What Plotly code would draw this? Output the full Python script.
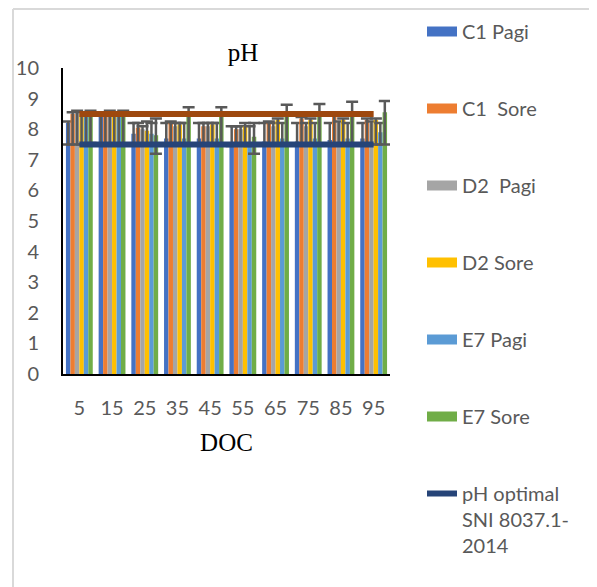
import plotly.graph_objects as go

doc = ["5", "15", "25", "35", "45", "55", "65", "75", "85", "95"]

c1_pagi = [8.2, 8.45, 7.85, 7.7, 7.7, 7.5, 7.6, 7.6, 7.65, 7.7]
c1_sore = [8.5, 8.5, 8.05, 8.2, 8.1, 8.0, 8.2, 8.35, 8.5, 8.3]
d2_pagi = [8.5, 8.5, 8.0, 8.1, 8.1, 8.0, 8.1, 8.1, 8.2, 8.2]
d2_sore = [8.5, 8.5, 7.95, 8.15, 8.15, 8.1, 8.3, 8.3, 8.3, 8.3]
e7_pagi = [8.5, 8.5, 7.85, 7.7, 7.7, 7.5, 7.7, 7.7, 7.7, 7.9]
e7_sore = [8.55, 8.5, 7.8, 8.5, 8.5, 7.75, 8.5, 8.5, 8.5, 8.55]

# error bars (upper / lower lengths)
c1_pagi_plus = [0.05, 0.05, 0.35, 0.5, 0.5, 0.6, 0.6, 0.6, 0.55, 0.5]
c1_pagi_minus = [0.7, 0.95, 0.35, 0.2, 0.2, 0.05, 0.1, 0.1, 0.15, 0.2]
c1_sore_plus = [0.05, 0.05, 0.15, 0.05, 0.1, 0.1, 0.05, 0.05, 0.05, 0.05]
c1_sore_minus = [1.0, 1.0, 0.55, 0.7, 0.6, 0.5, 0.7, 0.85, 1.0, 0.8]
d2_pagi_plus = [0.1, 0.1, 0.1, 0.1, 0.1, 0.1, 0.1, 0.1, 0.05, 0.05]
d2_pagi_minus = [1.0, 1.0, 0.5, 0.6, 0.6, 0.5, 0.6, 0.6, 0.7, 0.7]
d2_sore_plus = [0.05, 0.05, 0.3, 0.05, 0.05, 0.1, 0.05, 0.05, 0.05, 0.05]
d2_sore_minus = [1.0, 1.0, 0.45, 0.65, 0.65, 0.6, 0.8, 0.8, 0.8, 0.8]
e7_pagi_plus = [0.05, 0.05, 0.35, 0.5, 0.5, 0.6, 0.5, 0.5, 0.5, 0.3]
e7_pagi_minus = [1.0, 1.0, 0.35, 0.2, 0.2, 0.05, 0.2, 0.2, 0.2, 0.4]
e7_sore_plus = [0.05, 0.1, 0.55, 0.22, 0.22, 0.45, 0.3, 0.32, 0.4, 0.37]
e7_sore_minus = [1.0, 1.0, 0.6, 1.0, 1.0, 0.55, 1.0, 1.0, 1.0, 1.05]

ph_min = [7.5, 7.5, 7.5, 7.5, 7.5, 7.5, 7.5, 7.5, 7.5, 7.5]
ph_max = [8.5, 8.5, 8.5, 8.5, 8.5, 8.5, 8.5, 8.5, 8.5, 8.5]

series = [
    ("C1 Pagi", c1_pagi, c1_pagi_plus, c1_pagi_minus, "#4472C4"),
    ("C1  Sore", c1_sore, c1_sore_plus, c1_sore_minus, "#ED7D31"),
    ("D2  Pagi", d2_pagi, d2_pagi_plus, d2_pagi_minus, "#A5A5A5"),
    ("D2 Sore", d2_sore, d2_sore_plus, d2_sore_minus, "#FFC000"),
    ("E7 Pagi", e7_pagi, e7_pagi_plus, e7_pagi_minus, "#5B9BD5"),
    ("E7 Sore", e7_sore, e7_sore_plus, e7_sore_minus, "#70AD47"),
]

OFF = 8  # page body margin
W, H = 597 - OFF, 587 - OFF
L, R, T, B = 63 - OFF, 390 - OFF, 68 - OFF, 374 - OFF
pw, ph = R - L, B - T


def px(x):
    return (x - L) / pw


def py(y):
    return (B - y) / ph


fig = go.Figure()
for i, (name, vals, ep, em, col) in enumerate(series):
    fig.add_trace(go.Bar(
        x=doc, y=vals, name=name, marker=dict(color=col, line=dict(width=0)),
        error_y=dict(type="data", symmetric=False, array=ep, arrayminus=em,
                     color="#595959", thickness=2.5, width=6),
        showlegend=False, legendgroup=f"g{i}",
    ))
    fig.add_trace(go.Scatter(
        x=[None], y=[None], mode="lines", name=name,
        line=dict(color=col, width=13), legendgroup=f"g{i}",
    ))

fig.add_trace(go.Scatter(
    x=doc, y=ph_max, mode="lines", name="pH optimal (batas atas)",
    line=dict(color="#9E480E", width=6), showlegend=False,
))
fig.add_trace(go.Scatter(
    x=doc, y=ph_min, mode="lines", name="pH optimal<br>SNI 8037.1-<br>2014",
    line=dict(color="#264478", width=6), legendgroup="g7",
))

serif = "Liberation Serif, Times New Roman, serif"
fig.update_layout(
    width=W, height=H,
    margin=dict(l=L, r=W - R, t=T, b=H - B, autoexpand=False),
    paper_bgcolor="white", plot_bgcolor="white",
    barmode="group", bargap=0.18, bargroupgap=0,
    font=dict(family="Lato, Liberation Sans, sans-serif", color="#595959", size=20),
    title=dict(text="pH", x=(243 - OFF) / W, xref="container", xanchor="center",
               y=1 - (52 - OFF) / H, yref="container", yanchor="middle",
               font=dict(family=serif, size=25, color="black")),
    xaxis=dict(type="category", showline=True, linecolor="black", linewidth=2,
               showgrid=False, ticks="", ticklabelstandoff=15, automargin=False,
               tickfont=dict(size=20, color="#595959"),
               title=dict(text="DOC", standoff=15,
                          font=dict(family=serif, size=25, color="black"))),
    yaxis=dict(range=[0, 10], dtick=1, showline=True, linecolor="black", linewidth=2,
               showgrid=False, zeroline=False, ticks="", ticklabelstandoff=18,
               automargin=False, tickfont=dict(size=20, color="#595959")),
    legend=dict(x=px(422 - OFF), y=py(12 - OFF), xanchor="left", yanchor="top",
                tracegroupgap=48, valign="top", font=dict(size=20, color="#595959"),
                bgcolor="rgba(0,0,0,0)", itemwidth=30, maxheight=H),
    shapes=[
        dict(type="line", xref="paper", yref="paper", x0=px(13 - OFF), x1=px(13 - OFF),
             y0=py(1), y1=py(H + 5), line=dict(color="#D9D9D9", width=2)),
        dict(type="line", xref="paper", yref="paper", x0=px(13 - OFF), x1=px(W + 5),
             y0=py(1), y1=py(1), line=dict(color="#D9D9D9", width=2)),
    ],
)

fig.write_html("out.html")
